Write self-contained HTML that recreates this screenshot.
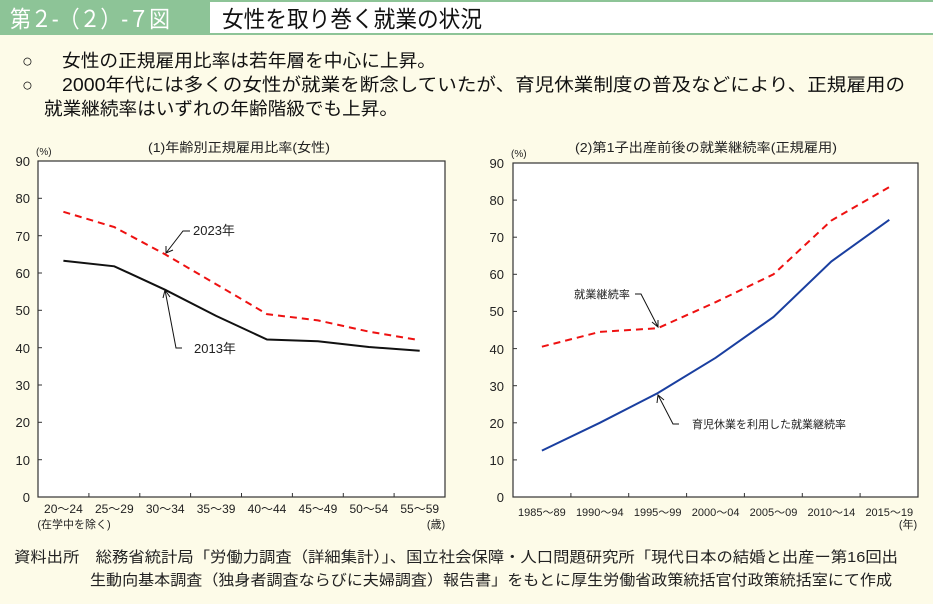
<!DOCTYPE html>
<html><head><meta charset="utf-8"><style>
body{margin:0;background:#fdfbe8;}
svg{display:block;font-family:"Liberation Sans","Noto Sans CJK JP",sans-serif;}
</style></head><body>
<svg width="933" height="604" viewBox="0 0 933 604" xmlns="http://www.w3.org/2000/svg">
<rect width="933" height="604" fill="#fdfbe8"/>
<rect x="0" y="0" width="933" height="35" fill="#8dc497"/>
<rect x="210" y="2" width="723" height="31" fill="#ffffff"/>
<text x="10" y="27" font-size="23" fill="#fff" textLength="160" lengthAdjust="spacingAndGlyphs">第２-（２）-７図</text>
<text x="222" y="27" font-size="23" fill="#111" textLength="260" lengthAdjust="spacingAndGlyphs">女性を取り巻く就業の状況</text>
<g font-size="18" fill="#111">
<text x="22" y="67">○</text>
<text x="62" y="67" textLength="374" lengthAdjust="spacingAndGlyphs">女性の正規雇用比率は若年層を中心に上昇。</text>
<text x="22" y="91">○</text>
<text x="62" y="91" textLength="843" lengthAdjust="spacingAndGlyphs">2000年代には多くの女性が就業を断念していたが、育児休業制度の普及などにより、正規雇用の</text>
<text x="44" y="115" textLength="354" lengthAdjust="spacingAndGlyphs">就業継続率はいずれの年齢階級でも上昇。</text>
</g>
<text x="148" y="152" font-size="13" fill="#222" textLength="182" lengthAdjust="spacingAndGlyphs">(1)年齢別正規雇用比率(女性)</text>
<text x="575" y="152" font-size="13" fill="#222" textLength="262" lengthAdjust="spacingAndGlyphs">(2)第1子出産前後の就業継続率(正規雇用)</text>
<!-- left chart -->
<rect x="38" y="161" width="407" height="336" fill="#fff" stroke="#333" stroke-width="1.2"/>
<text x="36" y="155" font-size="10" fill="#222">(%)</text>
<g font-size="13" fill="#222" text-anchor="end">
<text x="30" y="502">0</text><text x="30" y="465">10</text><text x="30" y="427">20</text><text x="30" y="390">30</text><text x="30" y="353">40</text><text x="30" y="315">50</text><text x="30" y="278">60</text><text x="30" y="241">70</text><text x="30" y="203">80</text><text x="30" y="166">90</text>
</g>
<g stroke="#333" stroke-width="1">
<line x1="38" y1="459.7" x2="42" y2="459.7"/><line x1="38" y1="422.3" x2="42" y2="422.3"/><line x1="38" y1="385" x2="42" y2="385"/><line x1="38" y1="347.7" x2="42" y2="347.7"/><line x1="38" y1="310.3" x2="42" y2="310.3"/><line x1="38" y1="273" x2="42" y2="273"/><line x1="38" y1="235.7" x2="42" y2="235.7"/><line x1="38" y1="198.3" x2="42" y2="198.3"/>
<line x1="88.9" y1="497" x2="88.9" y2="493"/><line x1="139.8" y1="497" x2="139.8" y2="493"/><line x1="190.6" y1="497" x2="190.6" y2="493"/><line x1="241.5" y1="497" x2="241.5" y2="493"/><line x1="292.4" y1="497" x2="292.4" y2="493"/><line x1="343.3" y1="497" x2="343.3" y2="493"/><line x1="394.1" y1="497" x2="394.1" y2="493"/>
</g>
<g font-size="12" fill="#222" text-anchor="middle">
<text x="63.4" y="513">20～24</text><text x="114.3" y="513">25～29</text><text x="165.2" y="513">30～34</text><text x="216.1" y="513">35～39</text><text x="267" y="513">40～44</text><text x="317.9" y="513">45～49</text><text x="368.8" y="513">50～54</text><text x="419.7" y="513">55～59</text>
<text x="74" y="528" font-size="11">(在学中を除く)</text><text x="436" y="528" font-size="11">(歳)</text>
</g>
<polyline points="63.4,211.8 114.3,227.1 165.2,254.4 216.1,284.2 267,314.1 317.9,320.4 368.8,331.6 419.7,340.2" fill="none" stroke="#ee1111" stroke-width="2" stroke-dasharray="7,5"/>
<polyline points="63.4,260.7 114.3,266.3 165.2,289.8 216.1,315.9 267,339.5 317.9,341.3 368.8,347 419.7,350.7" fill="none" stroke="#111" stroke-width="2"/>
<g stroke="#111" stroke-width="1" fill="none">
<polyline points="190,231 183,231 166,253"/><polyline points="166,246 166,253 173,250"/>
<polyline points="182,348 176,348 165,290"/><polyline points="163,298 165,290 170,297"/>
</g>
<text x="193" y="235" font-size="13" fill="#222">2023年</text>
<text x="194" y="353" font-size="13" fill="#222">2013年</text>
<!-- right chart -->
<rect x="513" y="163" width="405" height="334" fill="#fff" stroke="#333" stroke-width="1.2"/>
<text x="511" y="157" font-size="10" fill="#222">(%)</text>
<g font-size="13" fill="#222" text-anchor="end">
<text x="504" y="502">0</text><text x="504" y="465">10</text><text x="504" y="428">20</text><text x="504" y="391">30</text><text x="504" y="354">40</text><text x="504" y="316">50</text><text x="504" y="279">60</text><text x="504" y="242">70</text><text x="504" y="205">80</text><text x="504" y="168">90</text>
</g>
<g stroke="#333" stroke-width="1">
<line x1="513" y1="459.9" x2="517" y2="459.9"/><line x1="513" y1="422.8" x2="517" y2="422.8"/><line x1="513" y1="385.7" x2="517" y2="385.7"/><line x1="513" y1="348.6" x2="517" y2="348.6"/><line x1="513" y1="311.4" x2="517" y2="311.4"/><line x1="513" y1="274.3" x2="517" y2="274.3"/><line x1="513" y1="237.2" x2="517" y2="237.2"/><line x1="513" y1="200.1" x2="517" y2="200.1"/>
<line x1="570.9" y1="497" x2="570.9" y2="493"/><line x1="628.7" y1="497" x2="628.7" y2="493"/><line x1="686.6" y1="497" x2="686.6" y2="493"/><line x1="744.4" y1="497" x2="744.4" y2="493"/><line x1="802.3" y1="497" x2="802.3" y2="493"/><line x1="860.1" y1="497" x2="860.1" y2="493"/>
</g>
<g font-size="11" fill="#222" text-anchor="middle">
<text x="541.9" y="516">1985～89</text><text x="599.8" y="516">1990～94</text><text x="657.7" y="516">1995～99</text><text x="715.6" y="516">2000～04</text><text x="773.5" y="516">2005～09</text><text x="831.4" y="516">2010～14</text><text x="889.3" y="516">2015～19</text>
<text x="908" y="528" font-size="11">(年)</text>
</g>
<polyline points="541.9,346.7 599.8,331.9 657.7,328.2 715.6,302.2 773.5,274.3 831.4,220.5 889.3,187.1" fill="none" stroke="#ee1111" stroke-width="2" stroke-dasharray="7,5"/>
<polyline points="541.9,450.6 599.8,422.8 657.7,393.1 715.6,357.8 773.5,317 831.4,261.4 889.3,219.8" fill="none" stroke="#1a3fa0" stroke-width="2"/>
<g stroke="#111" stroke-width="1" fill="none">
<polyline points="635,294 641,294 658,327"/><polyline points="652,322 658,327 658,320"/>
<polyline points="679,424 673,424 658,395"/><polyline points="657,403 658,395 664,400"/>
</g>
<text x="574" y="298" font-size="11" fill="#222" textLength="56" lengthAdjust="spacingAndGlyphs">就業継続率</text>
<text x="692" y="428" font-size="11" fill="#222" textLength="154" lengthAdjust="spacingAndGlyphs">育児休業を利用した就業継続率</text>
<g font-size="15" fill="#222">
<text x="14" y="562" textLength="884" lengthAdjust="spacingAndGlyphs">資料出所　総務省統計局「労働力調査（詳細集計）」、国立社会保障・人口問題研究所「現代日本の結婚と出産ー第16回出</text>
<text x="90" y="585" textLength="802" lengthAdjust="spacingAndGlyphs">生動向基本調査（独身者調査ならびに夫婦調査）報告書」をもとに厚生労働省政策統括官付政策統括室にて作成</text>
</g>
</svg>
</body></html>
